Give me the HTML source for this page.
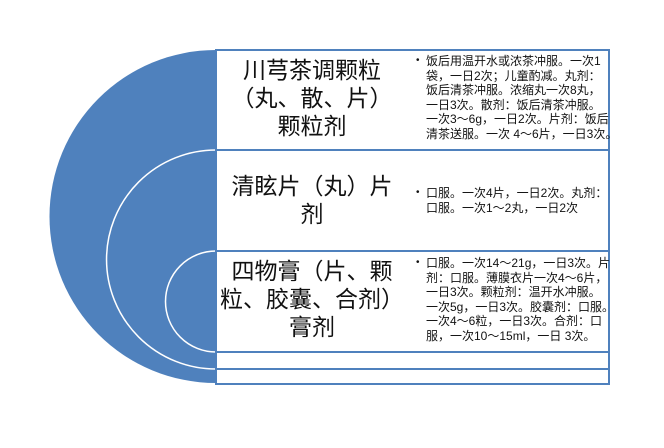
<!DOCTYPE html>
<html><head><meta charset="utf-8"><style>
body{margin:0;width:664px;height:448px;background:#fff;overflow:hidden;position:relative;font-family:"Liberation Sans","Noto Sans CJK SC",sans-serif}
.l{position:absolute;left:216px;width:192px;text-align:center;font-size:23px;line-height:28px;color:#111;white-space:nowrap}
.r{position:absolute;left:416px;width:196px;font-size:12px;line-height:14.5px;color:#111;white-space:nowrap}
.r span{position:absolute;left:0;top:0;font-size:10px}
.r div{margin-left:10px}
</style></head><body>
<svg width="664" height="448" style="position:absolute;left:0;top:0">
<path d="M216 50 A166.5 166.5 0 0 0 216 383 Z" fill="#4f81bd"/>
<path d="M216 150 A109.5 109.5 0 0 0 216 369" fill="none" stroke="#fff" stroke-width="1.5"/>
<path d="M216 251 A50.5 50.5 0 0 0 216 352" fill="none" stroke="#fff" stroke-width="1.5"/>
<g fill="#fff" stroke="#4f81bd" stroke-width="2">
<rect x="216" y="50" width="393" height="100"/>
<rect x="216" y="150" width="393" height="101"/>
<rect x="216" y="251" width="393" height="101"/>
<rect x="216" y="352" width="393" height="17"/>
<rect x="216" y="369" width="393" height="15"/>
</g>
</svg>
<div class="l" style="top:56px">川芎茶调颗粒<br>（丸、散、片）<br>颗粒剂</div>
<div class="l" style="top:172px">清眩片（丸）片<br>剂</div>
<div class="l" style="top:257px">四物膏（片、颗<br>粒、胶囊、合剂）<br>膏剂</div>
<div class="r" style="top:54px"><span>•</span><div>饭后用温开水或浓茶冲服。一次1<br>袋，一日2次；儿童酌减。丸剂：<br>饭后清茶冲服。浓缩丸一次8丸，<br>一日3次。散剂：饭后清茶冲服。<br>一次3～6g，一日2次。片剂：饭后<br>清茶送服。一次 4～6片，一日3次。</div></div>
<div class="r" style="top:186px"><span>•</span><div>口服。一次4片，一日2次。丸剂：<br>口服。一次1～2丸，一日2次</div></div>
<div class="r" style="top:256px"><span>•</span><div>口服。一次14～21g，一日3次。片<br>剂：口服。薄膜衣片一次4～6片，<br>一日3次。颗粒剂：温开水冲服。<br>一次5g，一日3次。胶囊剂：口服。<br>一次4～6粒，一日3次。合剂：口<br>服，一次10～15ml，一日 3次。</div></div>
</body></html>
